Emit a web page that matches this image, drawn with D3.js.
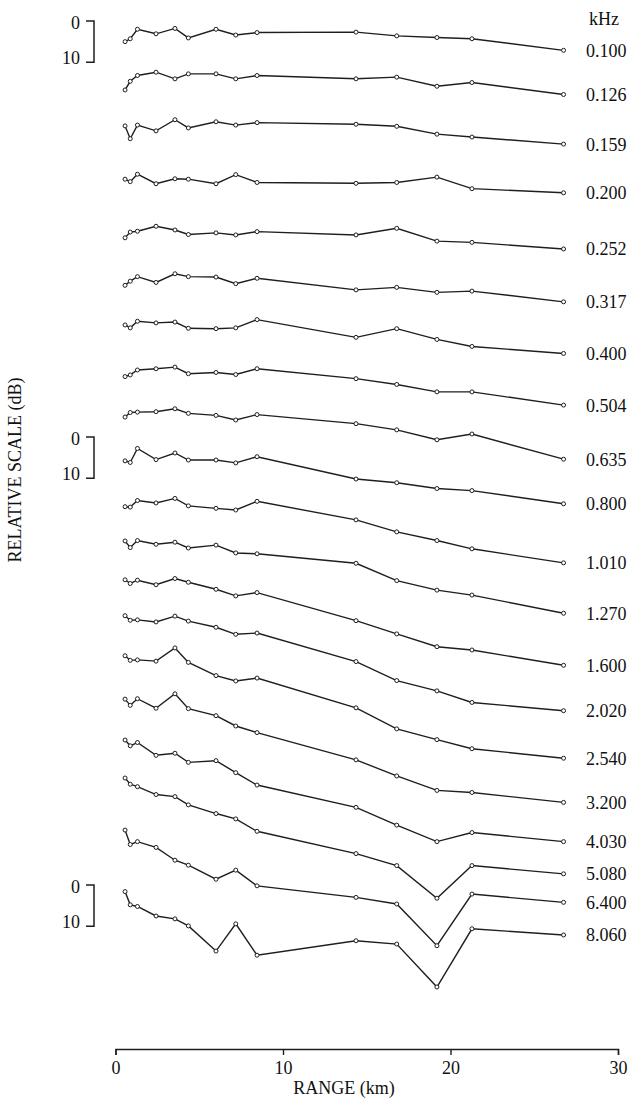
<!DOCTYPE html>
<html>
<head>
<meta charset="utf-8">
<script src="https://d3js.org/d3.v7.min.js"></script>
<style>
    body { margin: 0; background: #fff; }
    text { font-family: "Liberation Serif", "DejaVu Serif", serif; fill: #111; }
</style>
</head>
<body>
<svg id="chart" width="633" height="1101"></svg>
<script>
// range of each measurement (km)
var ranges = [0.57, 0.88, 1.31, 2.42, 3.55, 4.35, 6.00, 7.18, 8.45, 14.36, 16.79, 19.19, 21.28, 26.75];

// one curve per frequency (kHz)
var freqs = ['0.100', '0.126', '0.159', '0.200', '0.252', '0.317', '0.400', '0.504', '0.635', '0.800',
    '1.010', '1.270', '1.600', '2.020', '2.540', '3.200', '4.030', '5.080', '6.400', '8.060'];

// stacking offset of each curve on the relative scale (dB)
var offsets = [5.0, 16.7, 25.4, 38.3, 52.5, 64.0, 73.6, 86.1, 95.9, 106.5,
    117.6, 125.9, 135.3, 144.0, 153.7, 164.2, 174.1, 183.3, 195.9, 210.8];

// level re first range (dB, down = more loss)
var levels = [
    [0, -0.7, -3.0, -1.9, -3.2, -0.9, -3.0, -1.6, -2.2, -2.3, -1.4, -1.0, -0.7, 2.1],
    [0, -2.1, -3.5, -4.3, -2.7, -3.9, -3.9, -2.7, -3.5, -2.7, -3.1, -0.9, -1.8, 1.1],
    [0, 3.1, -0.2, 1.2, -1.5, 0.5, -1.0, -0.2, -0.8, -0.4, 0.1, 2.0, 2.7, 4.4],
    [0, 0.6, -1.2, 1.1, -0.1, 0, 1.1, -1.1, 0.8, 1.0, 0.8, -0.5, 2.3, 3.3],
    [0, -1.4, -1.6, -2.8, -1.9, -0.8, -1.2, -0.7, -1.5, -0.7, -2.3, 0.8, 1.1, 2.7],
    [0, -1.0, -2.1, -0.7, -2.8, -2.1, -2.0, -0.4, -1.7, 1.1, 0.5, 1.7, 1.4, 4.0],
    [0, 0.7, -0.9, -0.5, -0.7, 0.8, 0.9, 0.7, -1.3, 3.0, 0.9, 3.5, 5.2, 6.9],
    [0, -0.4, -1.6, -1.9, -2.3, -0.7, -1.0, -0.5, -1.9, 0.5, 1.9, 3.7, 3.7, 6.9],
    [0, -1.1, -1.2, -1.3, -2.0, -0.9, -0.4, 0.7, -0.6, 1.6, 3.1, 5.5, 4.1, 10.2],
    [0, 0.4, -3.0, -0.3, -1.9, -0.2, -0.2, 0.5, -1.0, 4.4, 5.3, 6.7, 7.2, 10.4],
    [0, 0.1, -1.5, -0.9, -2.0, -0.2, 0.4, 0.8, -1.3, 3.2, 6.1, 8.2, 10.2, 13.6],
    [0, 1.6, -0.1, 0.8, 0.3, 1.7, 1.0, 2.9, 3.1, 5.4, 9.6, 11.9, 13.1, 17.5],
    [0, 0.9, 0.1, 1.2, -0.3, 0.6, 2.3, 3.9, 3.1, 9.9, 13.1, 16.2, 17.0, 20.7],
    [0, 1.1, 1.0, 1.5, 0.1, 1.3, 2.8, 4.5, 4.2, 11.1, 15.7, 18.2, 21.0, 23.0],
    [0, 1.1, 1.0, 1.3, -1.9, 1.6, 4.8, 6.1, 5.4, 12.6, 17.7, 20.3, 22.5, 24.8],
    [0, 1.5, -0.1, 2.2, -1.3, 2.3, 4.0, 6.5, 8.1, 14.7, 18.6, 22.1, 22.6, 25.0],
    [0, 1.4, 0.6, 3.7, 3.2, 5.4, 5.0, 7.9, 10.9, 16.3, 20.6, 24.6, 22.4, 24.6],
    [0, 1.5, 2.1, 4.0, 4.5, 6.5, 8.6, 9.9, 12.9, 18.3, 21.2, 29.1, 21.2, 23.2],
    [0, 3.5, 2.8, 4.2, 7.3, 8.5, 11.9, 9.7, 13.5, 16.3, 17.9, 28.0, 15.5, 17.5],
    [0, 3.2, 3.6, 5.9, 6.6, 8.3, 14.4, 7.8, 15.4, 11.9, 12.7, 23.1, 9.0, 10.5]
];

// where the 0-10 dB scale brackets sit on the stacked scale (dB)
var scaleBars = [0, 100.7, 209.2];
var scaleBarTicks = [0, 10];
var xTicks = [0, 10, 20, 30];

var svg = d3.select('#chart');

var x = d3.scaleLinear().domain([0, 30]).range([115.5, 618]);
// 10 dB is about 41 px on the page
var y = d3.scaleLinear().domain([0, 240]).range([21, 21 + 240 * 4.13]);

var line = d3.line()
    .x(function(d) { return x(d[0]); })
    .y(function(d) { return y(d[1]); });

function rowPoints(i) {
    return ranges.map(function(r, j) { return [r, offsets[i] + levels[i][j]]; });
}

var rows = svg.append('g').attr('class', 'rows');

freqs.forEach(function(f, i) {
    var pts = rowPoints(i);
    var g = rows.append('g');

    g.append('path')
        .attr('d', line(pts))
        .attr('fill', 'none')
        .attr('stroke', '#1e1e1e')
        .attr('stroke-width', 1.4);

    g.selectAll('circle')
        .data(pts)
        .enter().append('circle')
        .attr('cx', function(d) { return x(d[0]); })
        .attr('cy', function(d) { return y(d[1]); })
        .attr('r', 2)
        .attr('fill', '#fff')
        .attr('stroke', '#1e1e1e')
        .attr('stroke-width', 1);

    var last = pts[pts.length - 1];
    g.append('text')
        .attr('x', 586)
        .attr('y', y(last[1]))
        .attr('dy', '0.36em')
        .style('font-size', '18px')
        .text(f);
});

svg.append('text')
    .attr('x', 589)
    .attr('y', 25)
    .style('font-size', '18px')
    .text('kHz');

// 0-10 dB brackets on the left
scaleBars.forEach(function(b) {
    var top = y(b + scaleBarTicks[0]),
        bot = y(b + scaleBarTicks[1]);
    svg.append('path')
        .attr('d', 'M86,' + top + 'H94V' + bot + 'H86')
        .attr('fill', 'none')
        .attr('stroke', '#1e1e1e')
        .attr('stroke-width', 1.5);
    svg.append('text')
        .attr('x', 80).attr('y', top + 8)
        .attr('text-anchor', 'end')
        .style('font-size', '18px')
        .text(scaleBarTicks[0]);
    svg.append('text')
        .attr('x', 80).attr('y', bot + 2)
        .attr('text-anchor', 'end')
        .style('font-size', '18px')
        .text(scaleBarTicks[1]);
});

svg.append('text')
    .attr('transform', 'translate(21,470) rotate(-90)')
    .attr('text-anchor', 'middle')
    .style('font-size', '18px')
    .text('RELATIVE SCALE (dB)');

// range axis
var xAxis = svg.append('g')
    .attr('transform', 'translate(0,1049)')
    .call(d3.axisBottom(x).tickValues(xTicks).tickSize(6).tickFormat(d3.format('d')));

xAxis.select('.domain').attr('stroke', '#1e1e1e').attr('stroke-width', 1.4);
xAxis.selectAll('.tick line').attr('stroke', '#1e1e1e').attr('stroke-width', 1.4);
xAxis.selectAll('.tick text')
    .attr('y', 12)
    .style('font-family', '"Liberation Serif", serif')
    .style('font-size', '18px')
    .attr('fill', '#111');

svg.append('text')
    .attr('x', 344)
    .attr('y', 1094)
    .attr('text-anchor', 'middle')
    .style('font-size', '18px')
    .text('RANGE (km)');
</script>
</body>
</html>
